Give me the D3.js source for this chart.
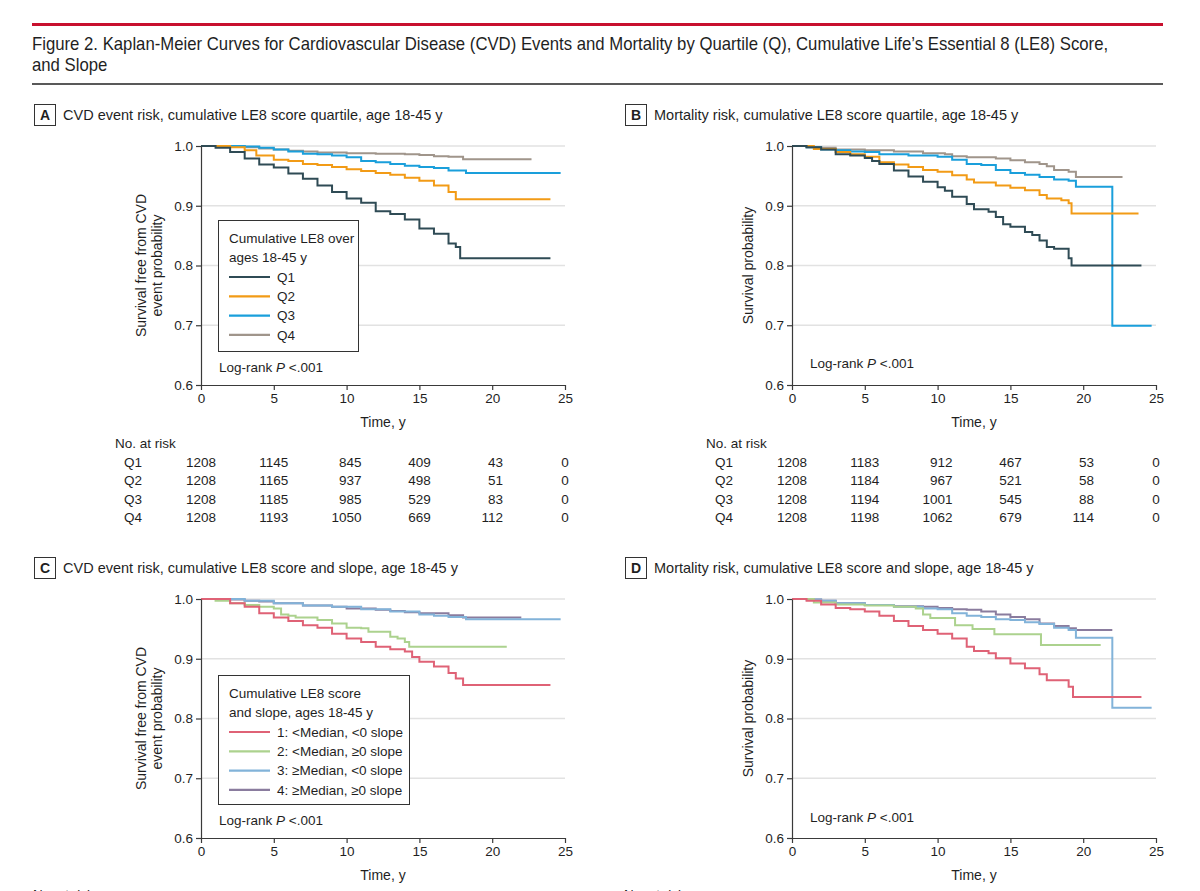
<!DOCTYPE html>
<html>
<head>
<meta charset="utf-8">
<script src="https://cdn.jsdelivr.net/npm/d3@7"></script>
<style>
  body { margin: 0; background: #fff; }
  text { font-family: "Liberation Sans", Arial, sans-serif; fill: #1f1f1f; }
</style>
</head>
<body>
<svg id="mainsvg" width="1200" height="891"></svg>
<script>
// ---- data ----
const timeTicks = [0, 5, 10, 15, 20, 25];
const survTicks = [0.6, 0.7, 0.8, 0.9, 1.0];
const quartiles = ['Q1', 'Q2', 'Q3', 'Q4'];
const slopeGroups = ['1: <Median, <0 slope', '2: <Median, \u22650 slope', '3: \u2265Median, <0 slope', '4: \u2265Median, \u22650 slope'];

// [time (y), survival]
const cvdQ1 = [[0,1],[1,0.997],[2,0.990],[3,0.979],[4,0.969],[5,0.964],[6,0.954],[7,0.945],[8,0.934],[9,0.923],[10,0.912],[11,0.905],[12,0.891],[13,0.886],[14,0.877],[15,0.862],[16,0.853],[17,0.837],[17.5,0.831],[17.8,0.812],[24,0.812]];
const cvdQ2 = [[0,1],[2,0.998],[3,0.993],[3.8,0.984],[5,0.977],[6,0.975],[7,0.970],[8,0.968],[9,0.965],[10,0.961],[11,0.958],[12,0.955],[13,0.952],[14,0.947],[15,0.942],[16,0.934],[17,0.923],[17.5,0.911],[24,0.911]];
const cvdQ3 = [[0,1],[3,0.999],[4,0.997],[5,0.994],[6,0.991],[7,0.987],[8,0.986],[9,0.984],[10,0.981],[11,0.975],[12,0.973],[13,0.970],[14,0.967],[15,0.965],[16,0.963],[17,0.959],[18.2,0.955],[24.7,0.955]];
const cvdQ4 = [[0,1],[3,0.998],[4,0.996],[5,0.994],[6,0.992],[7,0.991],[8,0.989],[10,0.988],[12,0.987],[14,0.986],[15,0.985],[16,0.983],[17,0.982],[18,0.978],[22.7,0.978]];

const mortQ1 = [[0,1],[1,0.998],[2,0.994],[3,0.986],[4,0.984],[5,0.980],[5.5,0.975],[6,0.970],[7,0.959],[8,0.949],[9,0.940],[10,0.931],[10.5,0.925],[11,0.915],[12,0.903],[12.5,0.894],[13.5,0.890],[14,0.881],[14.5,0.869],[15,0.865],[16,0.856],[16.5,0.851],[17,0.842],[17.5,0.831],[18,0.828],[19,0.812],[19.2,0.800],[24,0.800]];
const mortQ2 = [[0,1],[1.5,0.995],[3,0.990],[4,0.986],[5,0.982],[6,0.973],[7,0.969],[8,0.965],[9,0.960],[10,0.957],[11,0.951],[12,0.944],[12.5,0.939],[14,0.934],[15,0.930],[16,0.926],[17,0.918],[17.5,0.912],[18.5,0.909],[19,0.904],[19.2,0.887],[23.8,0.887]];
const mortQ3 = [[0,1],[1,0.998],[2,0.994],[3,0.993],[4,0.991],[5,0.990],[6,0.986],[8,0.984],[10,0.982],[11,0.977],[12,0.970],[13,0.968],[14,0.960],[15,0.955],[16,0.952],[17,0.948],[18,0.944],[19,0.942],[19.5,0.932],[22,0.699],[24.7,0.699]];
const mortQ4 = [[0,1],[1,0.998],[2,0.997],[3,0.994],[5,0.993],[7,0.991],[9,0.988],[10.5,0.986],[11,0.983],[12,0.981],[14,0.979],[15,0.976],[16,0.973],[17,0.970],[17.5,0.966],[18,0.960],[19,0.957],[19.5,0.948],[22.7,0.948]];

const cvdS1 = [[0,1],[2,0.993],[3,0.987],[4,0.976],[5,0.969],[6,0.963],[7,0.956],[8,0.952],[9,0.942],[10,0.934],[11,0.928],[12,0.920],[13,0.916],[14,0.912],[14.5,0.903],[15,0.895],[16,0.887],[17,0.876],[17.5,0.867],[18,0.856],[24,0.856]];
const cvdS2 = [[0,1],[1,0.997],[2,0.993],[3,0.990],[4,0.987],[5,0.984],[5.5,0.974],[6,0.972],[6.5,0.969],[8,0.965],[9,0.959],[10,0.952],[11,0.951],[11.5,0.945],[13,0.937],[13.5,0.934],[14,0.928],[14.3,0.920],[21,0.920]];
const cvdS3 = [[0,1],[3,0.997],[5,0.993],[7,0.989],[9,0.987],[11,0.983],[13,0.979],[15,0.974],[16,0.972],[17,0.970],[18.2,0.966],[24.7,0.966]];
const cvdS4 = [[0,1],[2,0.999],[3,0.997],[4,0.996],[5,0.993],[7,0.989],[9,0.987],[10,0.984],[12,0.982],[13,0.980],[14,0.978],[15,0.976],[17,0.973],[18,0.969],[22,0.969]];

const mortS1 = [[0,1],[1,0.997],[2,0.991],[3,0.985],[4,0.983],[5,0.979],[6,0.972],[7,0.963],[8,0.955],[9,0.948],[10,0.942],[11,0.934],[12,0.920],[12.5,0.913],[13.5,0.909],[14,0.901],[15,0.892],[16,0.884],[17,0.874],[17.5,0.864],[19,0.853],[19.3,0.836],[24,0.836]];
const mortS2 = [[0,1],[1.5,0.994],[3,0.991],[5,0.989],[7,0.987],[8.5,0.984],[9,0.974],[9.5,0.968],[11.2,0.956],[12.4,0.950],[13.9,0.941],[17.1,0.923],[21.2,0.923]];
const mortS3 = [[0,1],[1,0.999],[2,0.997],[3,0.993],[5,0.990],[7,0.987],[9,0.984],[10,0.983],[11,0.976],[12,0.972],[13,0.970],[14,0.966],[15,0.965],[16,0.961],[17,0.958],[18,0.952],[19,0.948],[19.5,0.935],[22,0.818],[24.7,0.818]];
const mortS4 = [[0,1],[1.5,0.999],[2,0.997],[3,0.993],[5,0.990],[7,0.988],[9,0.987],[10,0.985],[11,0.983],[12,0.982],[13,0.979],[14,0.974],[15,0.970],[16,0.966],[17,0.959],[18,0.955],[19,0.951],[19.5,0.948],[22,0.948]];

// number at risk at 0,5,...,25 y
const riskCvdQ1 = [1208, 1145, 845, 409, 43, 0];
const riskCvdQ2 = [1208, 1165, 937, 498, 51, 0];
const riskCvdQ3 = [1208, 1185, 985, 529, 83, 0];
const riskCvdQ4 = [1208, 1193, 1050, 669, 112, 0];
const riskMortQ1 = [1208, 1183, 912, 467, 53, 0];
const riskMortQ2 = [1208, 1184, 967, 521, 58, 0];
const riskMortQ3 = [1208, 1194, 1001, 545, 88, 0];
const riskMortQ4 = [1208, 1198, 1062, 679, 114, 0];

const quartileColors = ['#2f4b55', '#f29b16', '#1a9fdb', '#a0958b'];
const slopeColors = ['#df6276', '#acd28e', '#82b3d9', '#8a7c9e'];

// ---- layout ----
const svg = d3.select('#mainsvg');
const plotW = 364, plotH = 239;

// header: title squeezed horizontally to the width of the rule
svg.append('rect').attr('x', 32).attr('y', 23).attr('width', 1131).attr('height', 3).attr('fill', '#c8102e');
const titleLines = [
    'Figure 2. Kaplan-Meier Curves for Cardiovascular Disease (CVD) Events and Mortality by Quartile (Q), Cumulative Life\u2019s Essential 8 (LE8) Score,',
    'and Slope'
];
const t1 = svg.append('text').attr('font-size', 17.5).text(titleLines[0]);
const squeeze = Math.min(1, 1077 / t1.node().getComputedTextLength());
t1.attr('transform', `translate(32, 50) scale(${squeeze}, 1)`);
svg.append('text').attr('font-size', 17.5).text(titleLines[1])
    .attr('transform', `translate(32, 71) scale(${squeeze}, 1)`);
svg.append('line').attr('x1', 32).attr('x2', 1163).attr('y1', 84).attr('y2', 84)
    .attr('stroke', '#222').attr('stroke-width', 1.5);

const panelHeader = function(letter, title, bx, by) {
    svg.append('rect').attr('x', bx + 0.5).attr('y', by + 0.5).attr('width', 21).attr('height', 21)
        .attr('fill', '#fff').attr('stroke', '#333').attr('stroke-width', 1);
    svg.append('text').attr('x', bx + 11).attr('y', by + 16).attr('text-anchor', 'middle')
        .attr('font-size', 14).attr('font-weight', 'bold').text(letter);
    svg.append('text').attr('x', bx + 29).attr('y', by + 16).attr('font-size', 14.5).text(title);
};

const drawPanel = function(cfg) {
    const g = svg.append('g').attr('transform', `translate(${cfg.left}, ${cfg.top})`);
    const xScale = d3.scaleLinear().domain([0, 25]).range([0, plotW]);
    const yScale = d3.scaleLinear().domain([0.6, 1.0]).range([plotH, 0]);

    // gridlines
    g.selectAll('.grid').data(survTicks.filter(d => d > 0.6)).enter().append('line')
        .attr('x1', 0).attr('x2', plotW)
        .attr('y1', d => yScale(d)).attr('y2', d => yScale(d))
        .attr('stroke', '#e2e2e2').attr('stroke-width', 1.5);

    // curves
    const line = d3.line().x(d => xScale(d[0])).y(d => yScale(d[1])).curve(d3.curveStepAfter);
    for (let i = cfg.series.length - 1; i >= 0; i--) {
        g.append('path').attr('d', line(cfg.series[i]))
            .attr('fill', 'none').attr('stroke', cfg.colors[i]).attr('stroke-width', 2);
    }

    // axes
    const yAxis = d3.axisLeft(yScale).tickValues(survTicks).tickFormat(d3.format('.1f'))
        .tickSize(5).tickSizeOuter(0).tickPadding(3);
    const xAxis = d3.axisBottom(xScale).tickValues(timeTicks).tickFormat(d3.format('d'))
        .tickSize(5).tickSizeOuter(0).tickPadding(3);
    const ya = g.append('g').call(yAxis);
    const xa = g.append('g').attr('transform', `translate(0, ${plotH})`).call(xAxis);
    [ya, xa].forEach(a => {
        a.selectAll('path, line').attr('stroke', '#3a3a3a').attr('stroke-width', 1.2);
        a.selectAll('text').attr('font-size', 13.5).attr('fill', '#1f1f1f')
            .style('font-family', '"Liberation Sans", Arial, sans-serif');
    });

    // axis titles
    cfg.yTitle.forEach((t, i) => {
        const xx = cfg.yTitle.length === 2 ? (i === 0 ? -60 : -44) : -44;
        g.append('text').attr('transform', `translate(${xx}, ${plotH / 2}) rotate(-90)`)
            .attr('text-anchor', 'middle').attr('dy', '0.35em').attr('font-size', 14).text(t);
    });
    g.append('text').attr('x', plotW / 2).attr('y', plotH + 42).attr('text-anchor', 'middle')
        .attr('font-size', 14).text('Time, y');

    // log-rank
    const lr = g.append('text').attr('x', 18).attr('y', cfg.logRankY).attr('font-size', 13.5);
    lr.append('tspan').text('Log-rank ');
    lr.append('tspan').attr('font-style', 'italic').text('P');
    lr.append('tspan').text(' <.001');

    // legend
    if (cfg.legend) {
        const lg = g.append('g').attr('transform', `translate(17, ${cfg.legend.y})`);
        lg.append('rect').attr('x', 0.5).attr('y', 0.5).attr('width', cfg.legend.w).attr('height', cfg.legend.h)
            .attr('fill', '#fff').attr('stroke', '#333').attr('stroke-width', 1);
        cfg.legend.title.forEach((t, i) => {
            lg.append('text').attr('x', 11).attr('y', 23 + i * 18.5).attr('font-size', 13.5).text(t);
        });
        cfg.legend.labels.forEach((lab, i) => {
            const cy = 57 + i * 19.3;
            lg.append('line').attr('x1', 11).attr('x2', 52).attr('y1', cy).attr('y2', cy)
                .attr('stroke', cfg.colors[i]).attr('stroke-width', 2.2);
            lg.append('text').attr('x', 59).attr('y', cy).attr('dy', '0.35em')
                .attr('font-size', 13.5).text(lab);
        });
    }

    // number at risk, each column right-aligned on its widest entry
    if (cfg.risk) {
        g.append('text').attr('x', -86).attr('y', 297).attr('dy', '0.35em').attr('font-size', 13.5).text('No. at risk');
        const rowY = d => 316 + d * 18.4;
        cfg.riskLabels.forEach((lab, r) => {
            g.append('text').attr('x', -77).attr('y', rowY(r)).attr('dy', '0.35em').attr('font-size', 13.5).text(lab);
        });
        timeTicks.forEach((t, c) => {
            const cells = cfg.risk.map((row, r) =>
                g.append('text').attr('y', rowY(r)).attr('dy', '0.35em').attr('font-size', 13.5)
                    .attr('text-anchor', 'end').text(row[c]));
            const maxW = d3.max(cells, s => s.node().getComputedTextLength());
            cells.forEach(s => s.attr('x', xScale(t) + maxW / 2));
        });
    }
};

panelHeader('A', 'CVD event risk, cumulative LE8 score quartile, age 18-45 y', 34, 104);
panelHeader('B', 'Mortality risk, cumulative LE8 score quartile, age 18-45 y', 625, 104);
panelHeader('C', 'CVD event risk, cumulative LE8 score and slope, age 18-45 y', 34, 557);
panelHeader('D', 'Mortality risk, cumulative LE8 score and slope, age 18-45 y', 625, 557);

drawPanel({
    left: 201, top: 146,
    series: [cvdQ1, cvdQ2, cvdQ3, cvdQ4], colors: quartileColors,
    yTitle: ['Survival free from CVD', 'event probability'],
    logRankY: 226,
    legend: { y: 74, w: 140, h: 131, title: ['Cumulative LE8 over', 'ages 18-45 y'], labels: quartiles },
    risk: [riskCvdQ1, riskCvdQ2, riskCvdQ3, riskCvdQ4], riskLabels: quartiles
});
drawPanel({
    left: 792, top: 146,
    series: [mortQ1, mortQ2, mortQ3, mortQ4], colors: quartileColors,
    yTitle: ['Survival probability'],
    logRankY: 222,
    risk: [riskMortQ1, riskMortQ2, riskMortQ3, riskMortQ4], riskLabels: quartiles
});
drawPanel({
    left: 201, top: 599,
    series: [cvdS1, cvdS2, cvdS3, cvdS4], colors: slopeColors,
    yTitle: ['Survival free from CVD', 'event probability'],
    logRankY: 226,
    legend: { y: 76, w: 191, h: 129, title: ['Cumulative LE8 score', 'and slope, ages 18-45 y'], labels: slopeGroups }
});
drawPanel({
    left: 792, top: 599,
    series: [mortS1, mortS2, mortS3, mortS4], colors: slopeColors,
    yTitle: ['Survival probability'],
    logRankY: 223
});

// start of the next "No. at risk" tables, cut by the page edge
svg.append('text').attr('x', 33).attr('y', 899).attr('font-size', 13.5).text('No. at risk');
svg.append('text').attr('x', 624).attr('y', 899).attr('font-size', 13.5).text('No. at risk');
</script>
</body>
</html>
